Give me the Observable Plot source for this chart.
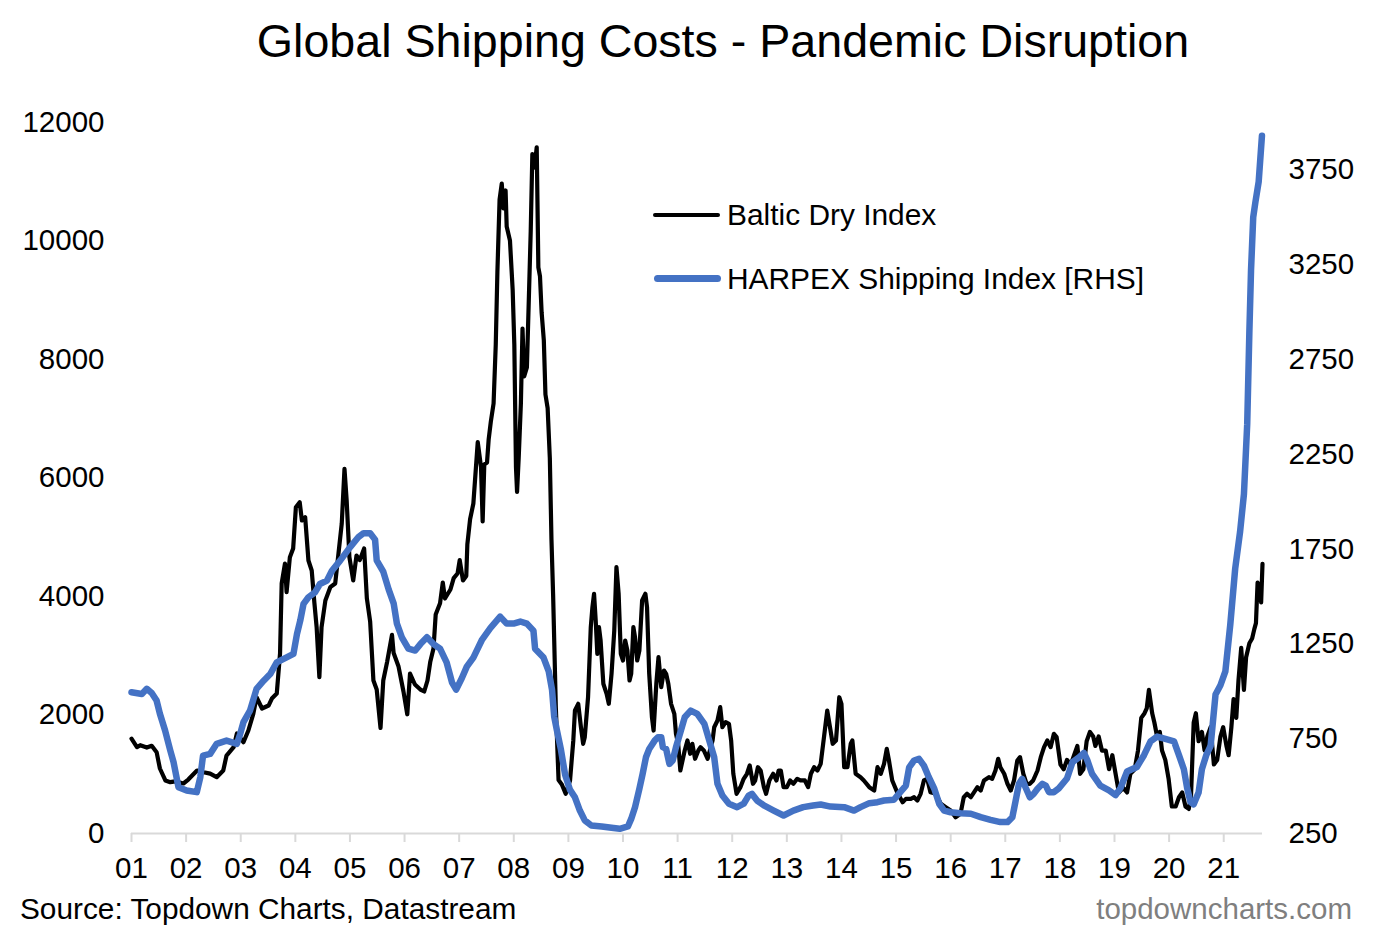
<!DOCTYPE html>
<html>
<head>
<meta charset="utf-8">
<script src="https://cdn.jsdelivr.net/npm/d3@7"></script>
<script src="https://cdn.jsdelivr.net/npm/@observablehq/plot@0.6"></script>
<style>
  html, body { margin: 0; padding: 0; background: #ffffff; }
  #wrap { position: relative; width: 1387px; height: 941px; overflow: hidden; font-family: "Liberation Sans", Arial, sans-serif; color: #000; }
  #chart { position: absolute; left: 0; top: 0; }
  .txt { position: absolute; white-space: nowrap; line-height: 1; }
  #title { font-size: 46.6px; top: 18px; left: 723px; transform: translateX(-50%); }
  #source { font-size: 29.8px; left: 20px; top: 894px; }
  #site { font-size: 29.5px; right: 35px; top: 894px; color: #7f7f7f; }
  .leg { position: absolute; font-size: 29.9px; line-height: 1; white-space: nowrap; }
  .sw { position: absolute; border-radius: 4px; }
</style>
</head>
<body>
<div id="wrap">
  <div id="chart"></div>
  <div class="txt" id="title">Global Shipping Costs - Pandemic Disruption</div>
  <div class="sw" style="left:653px; top:213px; width:67px; height:4px; background:#000;"></div>
  <div class="leg" style="left:727px; top:200px;">Baltic Dry Index</div>
  <div class="sw" style="left:654px; top:275px; width:67px; height:7px; background:#4472C4;"></div>
  <div class="leg" style="left:727px; top:264px;">HARPEX Shipping Index [RHS]</div>
  <div class="txt" id="source">Source: Topdown Charts, Datastream</div>
  <div class="txt" id="site">topdowncharts.com</div>
</div>
<script>
// ---- Data (decimal year, value) ----
const bdiT = [2001.00,2001.10,2001.16,2001.28,2001.37,2001.46,2001.52,2001.62,2001.71,2001.80,2001.95,2002.04,2002.20,2002.32,2002.44,2002.56,2002.68,2002.74,2002.87,2002.93,
2003.05,2003.14,2003.23,2003.29,2003.39,2003.51,2003.57,2003.66,2003.72,2003.75,2003.81,2003.84,2003.90,2003.96,2004.01,2004.08,2004.12,2004.18,2004.24,2004.30,
2004.35,2004.39,2004.44,2004.48,2004.55,2004.64,2004.73,2004.79,2004.85,2004.90,2004.94,2004.99,2005.06,2005.12,2005.18,2005.26,2005.31,2005.37,2005.43,2005.49,
2005.56,2005.61,2005.68,2005.77,2005.80,2005.89,2005.98,2006.05,2006.10,2006.19,2006.29,2006.36,2006.42,2006.47,2006.53,2006.57,2006.65,2006.70,2006.74,2006.84,
2006.90,2006.97,2007.01,2007.07,2007.13,2007.15,2007.20,2007.26,2007.34,2007.40,2007.43,2007.46,2007.51,2007.54,2007.58,2007.63,2007.67,2007.70,2007.74,2007.78,
2007.81,2007.85,2007.87,2007.93,2007.98,2008.01,2008.04,2008.06,2008.09,2008.13,2008.16,2008.19,2008.24,2008.28,2008.31,2008.34,2008.38,2008.42,2008.45,2008.48,
2008.51,2008.55,2008.58,2008.62,2008.66,2008.69,2008.72,2008.74,2008.77,2008.82,2008.88,2008.95,2009.03,2009.09,2009.12,2009.18,2009.23,2009.27,2009.30,2009.36,
2009.41,2009.44,2009.47,2009.50,2009.53,2009.56,2009.59,2009.64,2009.70,2009.74,2009.79,2009.84,2009.88,2009.92,2009.96,2010.00,2010.04,2010.08,2010.12,2010.15,
2010.19,2010.22,2010.26,2010.30,2010.35,2010.41,2010.44,2010.48,2010.53,2010.56,2010.61,2010.65,2010.70,2010.75,2010.79,2010.83,2010.88,2010.94,2010.97,2011.01,
2011.05,2011.09,2011.13,2011.18,2011.23,2011.27,2011.32,2011.38,2011.42,2011.48,2011.55,2011.64,2011.67,2011.73,2011.78,2011.82,2011.88,2011.94,2011.98,2012.02,
2012.08,2012.15,2012.21,2012.27,2012.32,2012.38,2012.42,2012.47,2012.52,2012.58,2012.62,2012.68,2012.75,2012.81,2012.85,2012.89,2012.94,2013.00,2013.06,2013.12,
2013.19,2013.25,2013.33,2013.39,2013.44,2013.50,2013.56,2013.62,2013.68,2013.74,2013.79,2013.84,2013.90,2013.96,2014.00,2014.05,2014.11,2014.17,2014.20,2014.26,
2014.35,2014.41,2014.51,2014.60,2014.66,2014.72,2014.78,2014.83,2014.87,2014.93,2015.02,2015.12,2015.18,2015.27,2015.33,2015.39,2015.45,2015.51,2015.57,2015.63,
2015.73,2015.82,2015.91,2016.00,2016.09,2016.18,2016.24,2016.30,2016.37,2016.43,2016.49,2016.55,2016.61,2016.70,2016.76,2016.82,2016.87,2016.91,2016.98,2017.04,
2017.10,2017.16,2017.22,2017.27,2017.33,2017.39,2017.45,2017.51,2017.59,2017.65,2017.71,2017.77,2017.83,2017.89,2017.94,2018.01,2018.07,2018.13,2018.20,2018.26,
2018.32,2018.37,2018.43,2018.49,2018.55,2018.61,2018.65,2018.71,2018.77,2018.84,2018.90,2018.96,2019.02,2019.08,2019.16,2019.23,2019.29,2019.37,2019.43,2019.49,
2019.55,2019.59,2019.63,2019.69,2019.73,2019.78,2019.83,2019.87,2019.93,2019.99,2020.05,2020.12,2020.18,2020.24,2020.30,2020.36,2020.40,2020.45,2020.49,2020.54,
2020.60,2020.65,2020.70,2020.76,2020.82,2020.88,2020.94,2020.99,2021.05,2021.09,2021.14,2021.18,2021.23,2021.27,2021.32,2021.37,2021.41,2021.47,2021.52,2021.56,
2021.59,2021.62,2021.66,2021.685,2021.71];
const bdiV = [1600,1457,1490,1450,1480,1372,1097,895,866,880,844,911,1063,1035,1010,950,1063,1316,1457,1688,
1541,1738,2020,2300,2110,2160,2278,2363,3038,4220,4557,4073,4664,4810,5507,5592,5283,5339,4608,4439,
3882,3482,2638,3482,3933,4157,4220,4726,5232,6155,5620,4664,4270,4692,4614,4810,3966,3578,2582,2430,
1782,2582,2893,3352,3045,2818,2397,2012,2700,2515,2430,2397,2582,2893,3122,3696,3887,4236,3966,4118,
4309,4388,4614,4270,4346,4883,5303,5570,6606,6184,5266,6228,6262,6650,6954,7258,8253,9477,10700,10970,
10549,10853,10245,10009,9165,8253,6184,5764,6338,7258,8523,7713,7865,9165,10160,11466,11240,11582,9553,9401,
8793,8327,7409,7180,6338,4962,4040,3274,2127,901,827,670,895,1570,2076,2189,1794,1514,1626,2300,
3482,3820,4046,3595,3033,3482,3257,2527,2358,2189,2695,3426,4495,4046,3033,2920,3257,3089,2582,2695,
3482,3313,2920,3089,3933,4046,3820,2695,1963,1738,2527,2976,2470,2751,2695,2527,2189,2020,1683,1514,
1063,1232,1401,1570,1345,1514,1261,1401,1457,1401,1261,1570,1794,1907,2132,1794,1879,1851,1570,1008,
670,782,923,1008,1148,839,895,1119,1063,782,670,895,1008,895,1063,1063,782,782,895,839,
923,895,895,782,1008,1119,1063,1176,1626,2076,1794,1514,1570,2300,2189,1119,1119,1514,1570,1008,
950,895,782,726,1119,1008,1176,1430,1232,895,697,528,585,585,613,557,670,895,923,697,
670,501,444,388,275,332,613,670,613,697,782,726,895,950,923,1063,1261,1119,1008,839,
726,895,1232,1288,1008,839,839,895,1063,1288,1457,1570,1457,1683,1626,1165,1085,1242,1165,1322,
1478,1006,1085,1558,1715,1637,1478,1637,1400,1400,1085,1322,1006,692,770,692,1006,1085,1400,1951,
2030,2110,2424,2030,1873,1637,1715,1400,1242,928,456,456,613,692,456,415,613,1873,2030,1558,
1715,1400,1637,1794,1165,1242,1637,1794,1478,1322,1794,2267,1951,2582,3132,2424,2976,3212,3291,3449,
3550,4236,4150,3900,4550];

const harpexT = [2001.00,2001.19,2001.28,2001.37,2001.46,2001.52,2001.615,2001.71,2001.77,2001.86,2002.01,2002.195,2002.26,2002.31,2002.44,2002.56,2002.74,2002.93,2002.99,2003.05,
2003.17,2003.29,2003.42,2003.54,2003.66,2003.84,2003.965,2004.03,2004.09,2004.15,2004.24,2004.36,2004.45,2004.58,2004.67,2004.82,2005.00,2005.16,2005.25,2005.37,
2005.46,2005.49,2005.61,2005.71,2005.80,2005.86,2005.95,2006.07,2006.195,2006.29,2006.41,2006.53,2006.65,2006.77,2006.87,2006.945,2007.05,2007.14,2007.26,2007.42,
2007.57,2007.75,2007.87,2007.995,2008.12,2008.24,2008.36,2008.39,2008.545,2008.64,2008.70,2008.74,2008.79,2008.86,2008.94,2009.03,2009.12,2009.21,2009.30,2009.42,
2009.61,2009.79,2009.94,2010.09,2010.15,2010.22,2010.30,2010.36,2010.42,2010.48,2010.58,2010.64,2010.70,2010.73,2010.79,2010.85,2010.91,2010.97,2011.06,2011.13,
2011.24,2011.36,2011.49,2011.58,2011.67,2011.73,2011.82,2011.94,2012.09,2012.21,2012.30,2012.36,2012.455,2012.58,2012.76,2012.94,2013.12,2013.30,2013.48,2013.62,
2013.80,2014.05,2014.23,2014.35,2014.51,2014.66,2014.78,2014.96,2015.05,2015.18,2015.24,2015.33,2015.42,2015.51,2015.60,2015.70,2015.79,2015.88,2016.00,2016.18,
2016.37,2016.55,2016.73,2016.91,2017.04,2017.13,2017.19,2017.25,2017.31,2017.37,2017.45,2017.52,2017.59,2017.68,2017.74,2017.80,2017.89,2017.98,2018.13,2018.23,
2018.35,2018.44,2018.50,2018.59,2018.74,2018.90,2019.02,2019.11,2019.23,2019.41,2019.54,2019.66,2019.78,2019.93,2020.09,2020.18,2020.27,2020.33,2020.39,2020.45,
2020.54,2020.60,2020.68,2020.76,2020.85,2020.94,2021.03,2021.12,2021.21,2021.30,2021.37,2021.43,2021.47,2021.50,2021.54,2021.58,2021.64,2021.70];
const harpexV = [995,986,1013,991,951,882,793,688,626,494,477,468,547,661,670,723,740,723,775,837,
898,1013,1056,1091,1153,1179,1197,1302,1373,1461,1496,1522,1566,1584,1636,1689,1759,1815,1834,1834,
1800,1691,1631,1536,1464,1357,1285,1225,1215,1249,1285,1249,1225,1153,1046,1009,1070,1130,1178,1273,
1333,1394,1357,1357,1368,1357,1320,1225,1178,1105,1009,867,794,698,560,480,441,371,319,292,
287,280,275,287,327,389,486,565,652,696,740,758,758,705,696,617,635,705,793,863,
898,881,828,740,652,512,450,407,389,407,450,459,424,398,371,345,371,389,398,403,
392,389,371,389,410,415,424,428,459,503,599,635,644,608,547,486,407,371,362,357,
354,336,322,310,310,336,424,512,538,494,441,459,486,512,503,468,468,488,540,626,
651,675,638,564,503,478,453,490,577,601,663,736,761,749,736,663,589,490,417,404,
466,589,663,712,983,1032,1105,1352,1647,1843,2040,2409,2901,3221,3500,3580,3688,3930];

// Axis definitions
const yearTicks = [2001,2002,2003,2004,2005,2006,2007,2008,2009,2010,2011,2012,2013,2014,2015,2016,2017,2018,2019,2020,2021];
const yearLabels = ["01","02","03","04","05","06","07","08","09","10","11","12","13","14","15","16","17","18","19","20","21"];
const leftTicks = [0,2000,4000,6000,8000,10000,12000];
const rightTicks = [250,750,1250,1750,2250,2750,3250,3750];
const leftDomain = [0, 12000];
const rightDomain = [250, 4000];

// map right-axis values onto the left-axis scale
const toLeft = v => (v - rightDomain[0]) * (leftDomain[1] - leftDomain[0]) / (rightDomain[1] - rightDomain[0]);

const bdi = bdiT.map((t, i) => ({t, v: bdiV[i]}));
const harpex = harpexT.map((t, i) => ({t, v: toLeft(harpexV[i])}));
const yearLabelMap = new Map(yearTicks.map((y, i) => [y, yearLabels[i]]));
const rightPos = rightTicks.map(toLeft);
const rightLabelMap = new Map(rightPos.map((p, i) => [Math.round(p), String(rightTicks[i])]));

const chart = Plot.plot({
  width: 1387,
  height: 941,
  marginTop: 122,
  marginBottom: 108,
  marginLeft: 131,
  marginRight: 125,
  x: {domain: [2001, 2021.71]},
  y: {domain: leftDomain},
  style: {fontFamily: "'Liberation Sans', Arial, sans-serif", fontSize: "29.5px", color: "#000", background: "transparent"},
  marks: [
    Plot.ruleY([0], {stroke: "#d9d9d9", strokeWidth: 2}),
    Plot.axisX(yearTicks, {anchor: "bottom", tickSize: 9, tickPadding: 15, stroke: "#d9d9d9", strokeWidth: 2, fill: "#000", label: null, tickFormat: d => yearLabelMap.get(d), fontSize: 29.5}),
    Plot.axisY(leftTicks, {anchor: "left", tickSize: 0, tickPadding: 27, label: null, tickFormat: d => String(d), fill: "#000", fontSize: 29.5}),
    Plot.axisY(rightPos, {anchor: "right", tickSize: 0, tickPadding: 26, label: null, tickFormat: d => rightLabelMap.get(Math.round(d)), fill: "#000", fontSize: 29.5}),
    Plot.line(bdi, {x: "t", y: "v", stroke: "#000", strokeWidth: 4.2, strokeLinejoin: "round"}),
    Plot.line(harpex, {x: "t", y: "v", stroke: "#4472C4", strokeWidth: 6.5, strokeLinejoin: "round", strokeLinecap: "round"})
  ]
});
document.getElementById("chart").appendChild(chart);
</script>
</body>
</html>
